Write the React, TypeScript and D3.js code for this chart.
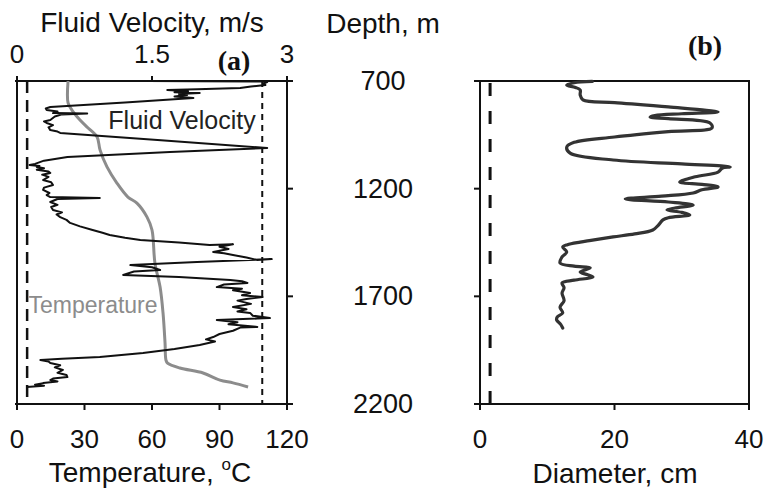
import React from "react";
import * as d3 from "d3";

// ---------- data ----------
const depthTicks = [700, 1200, 1700, 2200];
const tempTicks = [0, 30, 60, 90, 120];
const velTicks = [0, 1.5, 3];
const velTickLabels = ["0", "1.5", "3"];
const diamTicks = [0, 20, 40];

// [depth m, temperature °C]
const temperature: [number, number][] = [
  [700, 22.7], [802, 22.7], [835, 24.4], [881, 28], [918, 31.6], [960, 35.6],
  [1020, 36.9], [1099, 40], [1174, 44.4], [1239, 49.3], [1267, 53.3], [1332, 57.8],
  [1392, 60], [1545, 61.3], [1657, 63.6], [1777, 64.9], [1917, 65.8], [1996, 66.2],
  [2010, 66.9], [2033, 72.4], [2056, 82.7], [2089, 90.2], [2102, 96], [2121, 102.7],
];

// [depth m, fluid velocity m/s]
const velocity: [number, number][] = [
  [700, 1.45], [701, 2.0], [702, 2.75], [705, 2.78], [712, 2.74], [719, 2.76], [726, 2.6],
  [733, 2.48], [738, 2.0], [742, 1.67], [748, 1.9], [752, 1.75], [756, 2.03], [760, 1.8],
  [765, 1.89], [772, 1.75], [779, 1.96], [800, 1.2], [821, 0.37], [828, 0.32], [835, 0.33],
  [842, 0.45], [849, 0.4], [851, 0.78], [855, 0.5], [865, 0.42], [881, 0.37], [888, 0.3],
  [895, 0.33], [905, 0.4], [915, 0.35], [928, 0.37], [935, 0.45], [941, 0.48], [975, 1.6],
  [1011, 2.78], [1030, 1.7], [1053, 0.56], [1070, 0.3], [1085, 0.2], [1090, 0.14], [1095, 0.25],
  [1099, 0.22], [1105, 0.3], [1112, 0.22], [1120, 0.35], [1127, 0.37], [1135, 0.28], [1145, 0.35],
  [1160, 0.29], [1170, 0.38], [1183, 0.4], [1195, 0.3], [1206, 0.29], [1220, 0.36], [1230, 0.33],
  [1239, 0.37], [1243, 0.92], [1248, 0.45], [1262, 0.37], [1275, 0.45], [1285, 0.38], [1299, 0.4],
  [1310, 0.5], [1320, 0.44], [1332, 0.48], [1345, 0.55], [1359, 0.59], [1375, 0.7], [1392, 0.84],
  [1405, 0.95], [1415, 1.03], [1428, 1.2], [1438, 1.37], [1450, 1.8], [1462, 2.14], [1458, 2.4],
  [1470, 2.25], [1480, 2.35], [1494, 2.18], [1500, 2.3], [1508, 2.4], [1520, 2.55], [1531, 2.67],
  [1527, 2.83], [1540, 2.0], [1555, 1.26], [1565, 1.5], [1578, 1.59], [1585, 1.3], [1601, 1.18],
  [1610, 1.8], [1624, 2.37], [1630, 2.5], [1638, 2.56], [1645, 2.3], [1657, 2.22], [1665, 2.5],
  [1672, 2.4], [1685, 2.59], [1695, 2.5], [1703, 2.73], [1712, 2.55], [1720, 2.45], [1735, 2.6],
  [1750, 2.4], [1760, 2.55], [1770, 2.45], [1777, 2.59], [1790, 2.62], [1801, 2.81], [1803, 2.67],
  [1810, 2.22], [1820, 2.45], [1830, 2.35], [1842, 2.67], [1845, 2.48], [1860, 2.4], [1875, 2.25],
  [1889, 2.18], [1900, 2.1], [1910, 2.2], [1926, 2.03], [1935, 1.89], [1945, 1.75], [1963, 1.4],
  [1975, 1.1], [1982, 0.92], [1990, 0.5], [1996, 0.26], [2003, 0.35], [2010, 0.37], [2020, 0.48],
  [2030, 0.42], [2042, 0.51], [2055, 0.45], [2065, 0.55], [2075, 0.56], [2082, 0.4], [2089, 0.37],
  [2095, 0.45], [2103, 0.29], [2110, 0.2], [2115, 0.3], [2121, 0.11],
];

// [depth m, diameter cm]
const diameter: [number, number][] = [
  [702, 16.7], [708, 14], [719, 12.9], [730, 14.2], [742, 14.9], [765, 14.9], [788, 15.3],
  [800, 20], [820, 28], [844, 35.4], [852, 30], [860, 26], [867, 25.3], [875, 28], [895, 34.2],
  [918, 34.5], [935, 28], [960, 20], [985, 14], [1007, 12.9], [1035, 13.4], [1067, 19.8],
  [1085, 30], [1099, 37.2], [1105, 36], [1123, 35.4], [1145, 32], [1169, 29.7], [1180, 33],
  [1192, 35.4], [1205, 33], [1220, 31.7], [1235, 27], [1248, 21.6], [1262, 28], [1276, 31.7],
  [1290, 29], [1299, 27.8], [1310, 30], [1322, 31.2], [1335, 28], [1345, 27.2], [1370, 26.5],
  [1392, 25.7], [1410, 23], [1424, 19.8], [1440, 16.5], [1448, 14.9], [1460, 13], [1471, 12.3],
  [1494, 12.9], [1517, 12.2], [1545, 11.9], [1560, 14], [1568, 16.4], [1587, 14.9], [1600, 16],
  [1610, 16.8], [1625, 14], [1638, 12.2], [1660, 12.5], [1685, 12.2], [1720, 12.5], [1750, 11.9],
  [1777, 12.3], [1795, 11.5], [1810, 11.4], [1830, 12], [1847, 12.3],
];

const tempRefLow = 4.5; // °C dashed line
const tempRefHigh = 109; // °C dashed line
const diamRef = 1.5; // cm dashed line

// ---------- layout ----------
const FONT = "'Liberation Sans', Arial, Helvetica, sans-serif";
const SERIF = "'Liberation Serif', 'Times New Roman', serif";

const yScale = d3.scaleLinear().domain([700, 2200]).range([81, 404]);
const xTemp = d3.scaleLinear().domain([0, 120]).range([17, 287]);
const xVel = d3.scaleLinear().domain([0, 3]).range([17, 287]);
const xDiam = d3.scaleLinear().domain([0, 40]).range([480, 749]);

export default function App() {
  const tempLine = d3
    .line<[number, number]>()
    .x((d) => xTemp(d[1]))
    .y((d) => yScale(d[0]))
    .curve(d3.curveCatmullRom.alpha(0.5));
  const velLine = d3
    .line<[number, number]>()
    .x((d) => xVel(d[1]))
    .y((d) => yScale(d[0]));
  const diamLine = d3
    .line<[number, number]>()
    .x((d) => xDiam(d[1]))
    .y((d) => yScale(d[0]))
    .curve(d3.curveCatmullRom.alpha(0.5));

  const yTop = yScale(700);
  const yBot = yScale(2200);
  const ink = "#111";

  return (
    <svg
      width={764}
      height={490}
      style={{ position: "absolute", left: 0, top: 0, background: "#fff" }}
      fontFamily={FONT}
    >
      {/* ===== Panel (a) ===== */}
      <g stroke={ink} strokeWidth={2} fill="none">
        <line x1={xTemp(0)} x2={xTemp(0)} y1={yTop} y2={yBot} />
        <line x1={xTemp(120)} x2={xTemp(120)} y1={yTop - 5} y2={yBot + 6} />
        <line x1={xTemp(0) - 2} x2={xTemp(120) + 6} y1={yTop} y2={yTop} />
        <line x1={xTemp(0) - 2} x2={xTemp(120) + 6} y1={yBot} y2={yBot} />
        {tempTicks.map((t) => (
          <line key={"tt" + t} x1={xTemp(t)} x2={xTemp(t)} y1={yBot} y2={yBot + 6} />
        ))}
        {velTicks.map((t) => (
          <line key={"vt" + t} x1={xVel(t)} x2={xVel(t)} y1={yTop} y2={yTop - 5} />
        ))}
        {depthTicks.slice(1, 3).map((d) => (
          <line key={"dr" + d} x1={xTemp(120)} x2={xTemp(120) + 6} y1={yScale(d)} y2={yScale(d)} />
        ))}
      </g>

      {/* reference dashed lines */}
      <line
        x1={xTemp(tempRefLow)}
        x2={xTemp(tempRefLow)}
        y1={yTop}
        y2={yBot}
        stroke={ink}
        strokeWidth={2.5}
        strokeDasharray="12,7"
      />
      <line
        x1={xTemp(tempRefHigh)}
        x2={xTemp(tempRefHigh)}
        y1={yTop}
        y2={yBot}
        stroke={ink}
        strokeWidth={2}
        strokeDasharray="6,5"
      />

      <path d={tempLine(temperature) || ""} fill="none" stroke="#8c8c8c" strokeWidth={3} />
      <path
        d={velLine(velocity) || ""}
        fill="none"
        stroke={ink}
        strokeWidth={2}
        strokeLinejoin="round"
      />

      <text x={182} y={129} fontSize={25} textAnchor="middle" fill="#222">
        Fluid Velocity
      </text>
      <text x={93} y={313} fontSize={23} textAnchor="middle" fill="#8c8c8c">
        Temperature
      </text>

      <text x={152} y={32} fontSize={28} textAnchor="middle" fill={ink}>
        Fluid Velocity, m/s
      </text>
      {velTicks.map((t, i) => (
        <text key={"vl" + t} x={xVel(t)} y={63} fontSize={26} textAnchor="middle" fill={ink}>
          {velTickLabels[i]}
        </text>
      ))}
      <text x={234} y={70} fontSize={28} fontWeight="bold" fontFamily={SERIF} textAnchor="middle" fill={ink}>
        (a)
      </text>

      {tempTicks.map((t) => (
        <text key={"tl" + t} x={xTemp(t)} y={448} fontSize={26} textAnchor="middle" fill={ink}>
          {t}
        </text>
      ))}
      <text x={150} y={482} fontSize={28} textAnchor="middle" fill={ink}>
        Temperature,{" "}
        <tspan fontSize={17} dy={-12}>
          o
        </tspan>
        <tspan dy={12}>C</tspan>
      </text>

      {/* ===== Depth axis labels ===== */}
      <text x={383} y={33} fontSize={28} textAnchor="middle" fill={ink}>
        Depth, m
      </text>
      {depthTicks.map((d) => (
        <text
          key={"dl" + d}
          x={383}
          y={yScale(d) + 9}
          fontSize={27}
          textAnchor="middle"
          fill={ink}
        >
          {d}
        </text>
      ))}

      {/* ===== Panel (b) ===== */}
      <g stroke={ink} strokeWidth={2} fill="none">
        <line x1={xDiam(0)} x2={xDiam(0)} y1={yTop} y2={yBot + 6} />
        <line x1={xDiam(40)} x2={xDiam(40)} y1={yTop} y2={yBot + 6} />
        <line x1={xDiam(0) - 6} x2={xDiam(40) + 1} y1={yTop} y2={yTop} />
        <line x1={xDiam(0) - 6} x2={xDiam(40) + 1} y1={yBot} y2={yBot} />
        {diamTicks.map((t) => (
          <line key={"dt" + t} x1={xDiam(t)} x2={xDiam(t)} y1={yBot} y2={yBot + 6} />
        ))}
        {depthTicks.slice(1, 3).map((d) => (
          <line key={"dlt" + d} x1={xDiam(0) - 6} x2={xDiam(0)} y1={yScale(d)} y2={yScale(d)} />
        ))}
      </g>
      <line
        x1={xDiam(diamRef)}
        x2={xDiam(diamRef)}
        y1={yTop + 2}
        y2={yBot}
        stroke={ink}
        strokeWidth={3}
        strokeDasharray="13,15"
      />
      <path
        d={diamLine(diameter) || ""}
        fill="none"
        stroke="#333"
        strokeWidth={3.2}
        strokeLinejoin="round"
        strokeLinecap="round"
      />
      <text x={705} y={55} fontSize={28} fontWeight="bold" fontFamily={SERIF} textAnchor="middle" fill={ink}>
        (b)
      </text>
      {diamTicks.map((t) => (
        <text key={"dtl" + t} x={xDiam(t)} y={448} fontSize={26} textAnchor="middle" fill={ink}>
          {t}
        </text>
      ))}
      <text x={615} y={483} fontSize={28} textAnchor="middle" fill={ink}>
        Diameter, cm
      </text>
    </svg>
  );
}
